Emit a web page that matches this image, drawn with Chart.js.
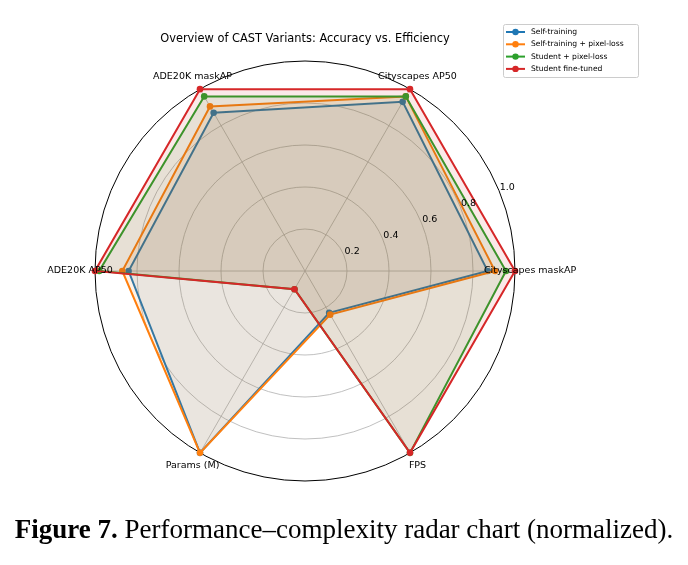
<!DOCTYPE html>
<html>
<head>
<meta charset="utf-8">
<script src="https://cdn.jsdelivr.net/npm/chart.js@4.4.1/dist/chart.umd.min.js"></script>
<style>
  html, body { margin: 0; padding: 0; background: #fff; }
  #wrap { position: relative; width: 688px; height: 565px; }
  #caption {
    position: absolute; left: 0; top: 514px; width: 688px; text-align: center;
    font-family: 'Liberation Serif', 'Times New Roman', serif; font-size: 27px; color: #000;
    white-space: nowrap;
  }
</style>
</head>
<body>
<div id="wrap">
  <canvas id="radar" width="688" height="565"></canvas>
  <div id="caption"><b>Figure 7.</b> Performance–complexity radar chart (normalized).</div>
</div>
<script>
// axes, clockwise from the right (Chart.js order)
const axisLabels = ['Cityscapes maskAP', 'FPS', 'Params (M)', 'ADE20K AP50', 'ADE20K maskAP', 'Cityscapes AP50'];
const tickValues = [0.2, 0.4, 0.6, 0.8, 1.0];
const tickLabels = ['0.2', '0.4', '0.6', '0.8', '1.0'];

const seriesNames = ['Self-training', 'Self-training + pixel-loss', 'Student + pixel-loss', 'Student fine-tuned'];
const selfTraining      = [0.87, 0.23, 1.00, 0.84, 0.87, 0.93];
const selfTrainingPixel = [0.905, 0.24, 1.00, 0.87, 0.905, 0.96];
const studentPixel      = [0.957, 1.00, 0.10, 0.98, 0.96, 0.96];
const studentFineTuned  = [1.00, 1.00, 0.10, 1.00, 1.00, 1.00];

const colors = ['31, 119, 180', '255, 127, 14', '44, 160, 44', '214, 39, 40'];
const seriesData = [selfTraining, selfTrainingPixel, studentPixel, studentFineTuned];

const FONT = "'DejaVu Sans', sans-serif";

// axis names, r ticks, title and legend drawn like matplotlib does
const polarTextPlugin = {
    id: 'polarText',
    afterDraw(chart) {
        const ctx = chart.ctx;
        const r = chart.scales.r;
        ctx.save();
        ctx.fillStyle = '#000';
        ctx.textAlign = 'center';
        ctx.textBaseline = 'middle';

        // axis labels, centred just outside the outer ring
        ctx.font = '9.5px ' + FONT;
        const labelDist = r.getDistanceFromCenterForValue(1) + 15;
        axisLabels.forEach((label, i) => {
            const p = r.getPointPosition(i, labelDist);
            ctx.fillText(label, p.x, p.y);
        });

        // radial tick labels at 22.5 deg
        const a = 22.5 * Math.PI / 180;
        tickValues.forEach((v, i) => {
            const d = r.getDistanceFromCenterForValue(v) + 9;
            ctx.fillText(tickLabels[i], r.xCenter + d * Math.cos(a), r.yCenter - d * Math.sin(a));
        });

        // title
        ctx.font = '11.4px ' + FONT;
        ctx.fillText('Overview of CAST Variants: Accuracy vs. Efficiency', 305, 39);

        // legend
        ctx.fillStyle = 'rgba(255,255,255,0.8)';
        ctx.strokeStyle = '#cccccc';
        ctx.lineWidth = 1;
        ctx.beginPath();
        ctx.roundRect(503.5, 24.5, 135, 53, 2);
        ctx.fill();
        ctx.stroke();
        ctx.font = '7.6px ' + FONT;
        ctx.textAlign = 'left';
        seriesNames.forEach((name, i) => {
            const y = 32 + i * 12.3;
            ctx.strokeStyle = 'rgb(' + colors[i] + ')';
            ctx.fillStyle = 'rgb(' + colors[i] + ')';
            ctx.lineWidth = 2;
            ctx.beginPath();
            ctx.moveTo(506, y);
            ctx.lineTo(525, y);
            ctx.stroke();
            ctx.beginPath();
            ctx.arc(515.5, y, 3.2, 0, Math.PI * 2);
            ctx.fill();
            ctx.fillStyle = '#000';
            ctx.fillText(name, 531, y);
        });
        ctx.restore();
    }
};

const datasets = seriesNames.map((name, i) => ({
    label: name,
    data: seriesData[i],
    borderColor: 'rgb(' + colors[i] + ')',
    backgroundColor: 'rgba(' + colors[i] + ', 0.1)',
    fill: true,
    borderWidth: 2,
    pointRadius: 3.3,
    pointBorderWidth: 0,
    pointBackgroundColor: 'rgb(' + colors[i] + ')',
    order: seriesNames.length - 1 - i, // last series on top, as in matplotlib
}));

new Chart(document.getElementById('radar'), {
    type: 'radar',
    plugins: [polarTextPlugin],
    data: { labels: axisLabels, datasets: datasets },
    options: {
        responsive: false,
        animation: false,
        layout: { padding: { left: 95, right: 173, top: 61, bottom: 84 } },
        plugins: {
            legend: { display: false },
            title: { display: false },
            tooltip: { enabled: false }
        },
        elements: { line: { tension: 0 } },
        scales: {
            r: {
                min: 0,
                max: 1,
                startAngle: 90,
                ticks: { display: false, stepSize: 0.2 },
                pointLabels: { display: false },
                grid: {
                    circular: true,
                    color: (c) => (c.tick && c.tick.value >= 1 ? '#000000' : '#b0b0b0'),
                    lineWidth: (c) => (c.tick && c.tick.value >= 1 ? 1 : 0.8)
                },
                angleLines: { color: '#b0b0b0', lineWidth: 0.8 }
            }
        }
    }
});
</script>
</body>
</html>
